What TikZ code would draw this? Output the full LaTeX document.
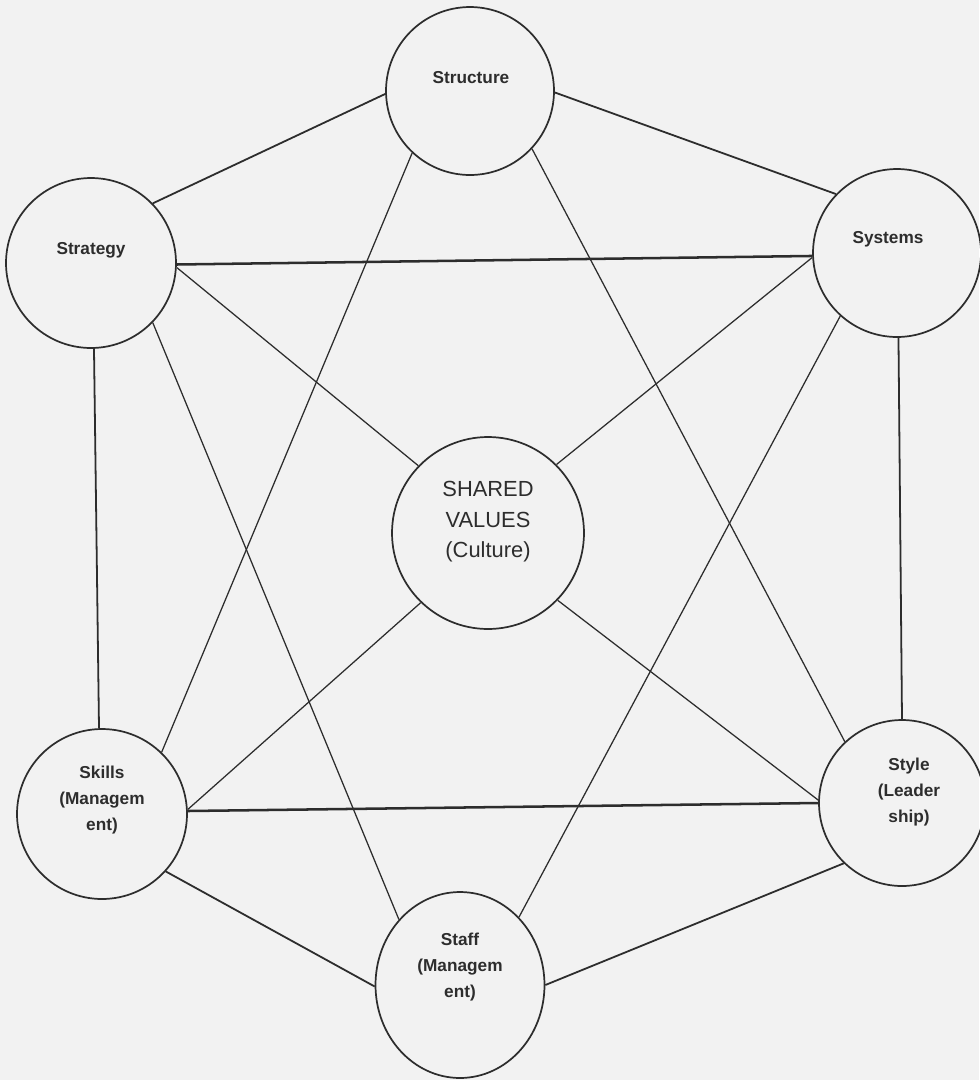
\documentclass[tikz,border=0pt]{standalone}
\usepackage{fontspec}
\setmainfont{Liberation Sans}
\usetikzlibrary{shapes.geometric}
\definecolor{paper}{RGB}{242,242,242}
\definecolor{ink}{RGB}{45,45,45}
\begin{document}
\begin{tikzpicture}[x=0.0265cm,y=-0.0265cm,
  disc/.style={circle,draw=ink,line width=1.3pt,inner sep=0pt},
  oval/.style={ellipse,draw=ink,line width=1.3pt,inner sep=0pt},
  lab/.style={font=\bfseries\fontsize{13}{19.5}\selectfont,align=center,text=ink,inner sep=0pt},
  svlab/.style={font=\fontsize{16.5}{23}\selectfont,align=center,text=ink,inner sep=0pt},
  conn/.style={draw=ink,line width=0.95pt},
  rim/.style={draw=ink,line width=1.35pt},
  bar/.style={draw=ink,line width=1.9pt}]
\fill[paper] (0,0) rectangle (979,1080);
\useasboundingbox (0,0) rectangle (979,1080);

% circles
\node[disc,minimum size=4.505cm] (strategy) at (91,263) {};
\node[disc,minimum size=4.452cm] (structure) at (470,91) {};
\node[disc,minimum size=4.452cm] (systems) at (897,253) {};
\node[disc,minimum size=5.088cm] (sv) at (488,533) {};
\node[disc,minimum size=4.505cm] (skills) at (102,814) {};
\node[disc,minimum size=4.399cm] (style) at (902,803) {};
\node[oval,minimum width=4.4785cm,minimum height=4.929cm] (staff) at (460,985) {};

% labels
\node[lab] (strategyT) at (91,250) {Strategy};
\node[lab] (structureT) at (471,78) {Structure};
\node[lab] (systemsT) at (888,239) {Systems};
\node[lab] (skillsT) at (102,800) {Skills\\(Managem\\ent)};
\node[lab] (styleT) at (909,792) {Style\\(Leader\\ship)};
\node[lab] (staffT) at (460,967) {Staff\\(Managem\\ent)};
\node[svlab] (svT) at (488,522) {SHARED\\VALUES\\(Culture)};

% connectors
\draw[rim] (strategy.44.5) -- (structure.182);
\draw[rim] (structure.-1) -- (systems.136);
\draw[bar] (strategy.-1) -- (systems.182);
\draw[conn] (strategy.-3) -- (sv.136.7);
\draw[conn] (strategy.-44.5) -- (staff.133.6);
\draw[rim] (strategy.-88) -- (skills.92);
\draw[conn] (structure.-133.6) -- (skills.46.4);
\draw[conn] (structure.-43.6) -- (style.133);
\draw[conn] (systems.183) -- (sv.45.8);
\draw[conn] (systems.-132.6) -- (staff.49.5);
\draw[rim] (systems.-89) -- (style.90.7);
\draw[conn] (sv.-134.6) -- (skills.3.4);
\draw[conn] (sv.-44.2) -- (style.178);
\draw[bar] (skills.2) -- (style.180);
\draw[rim] (skills.-42.6) -- (staff.181);
\draw[rim] (staff.0) -- (style.-134);
\end{tikzpicture}
\end{document}
